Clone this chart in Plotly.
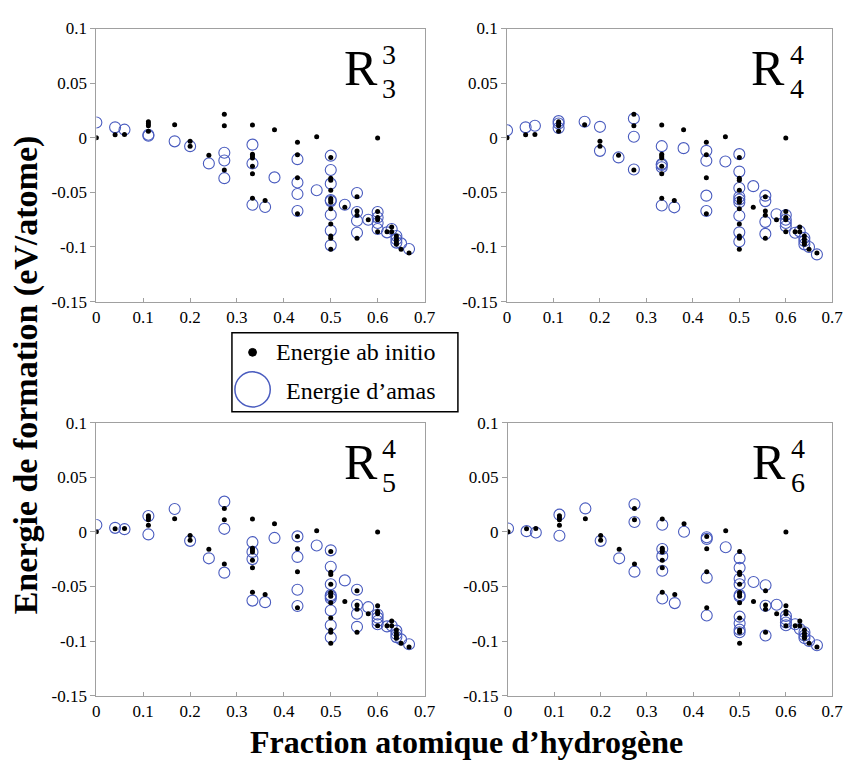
import plotly.graph_objects as go

W, H = 857, 771

# ---------------- data ----------------
# Hydrogen atomic fraction -> formation energies (eV/atom)
ab_initio = [
    (0.0, [0.0]),
    (0.04, [0.0027]),
    (0.06, [0.003]),
    (0.111, [0.0146, 0.0128, 0.011, 0.006]),
    (0.167, [0.012]),
    (0.2, [-0.0033, -0.0077]),
    (0.24, [-0.016]),
    (0.273, [0.0214, 0.011, -0.0295]),
    (0.333, [0.0116, -0.015, -0.0167, -0.0185, -0.026, -0.033, -0.0554]),
    (0.36, [-0.0574]),
    (0.38, [0.0074]),
    (0.429, [-0.0042, -0.0155, -0.0366, -0.0696]),
    (0.47, [0.0009]),
    (0.5, [-0.018, -0.037, -0.039, -0.048, -0.0555, -0.057, -0.059, -0.065,
           -0.079, -0.090, -0.092, -0.102]),
    (0.53, [-0.0637]),
    (0.556, [-0.054, -0.067, -0.071, -0.092]),
    (0.58, [-0.075]),
    (0.6, [-0.0003, -0.0676, -0.073, -0.075, -0.086]),
    (0.62, [-0.086]),
    (0.63, [-0.0816, -0.086]),
    (0.64, [-0.090, -0.093, -0.0955, -0.0975]),
    (0.65, [-0.102]),
    (0.667, [-0.1054]),
]

amas_R33 = [
    (0.0, [0.014]), (0.04, [0.0095]), (0.06, [0.0074]), (0.111, [0.0027, 0.0018]),
    (0.167, [-0.0033]), (0.2, [-0.0077]), (0.24, [-0.0235]),
    (0.273, [-0.0137, -0.0208, -0.037]), (0.333, [-0.0063, -0.0235, -0.0613]),
    (0.36, [-0.0634]), (0.38, [-0.0363]), (0.429, [-0.0196, -0.041, -0.0515, -0.067]),
    (0.47, [-0.048]),
    (0.5, [-0.0164, -0.0295, -0.042, -0.057, -0.058, -0.0705, -0.085, -0.0985]),
    (0.53, [-0.0613]), (0.556, [-0.0506, -0.068, -0.076, -0.087]), (0.58, [-0.075]),
    (0.6, [-0.068, -0.073, -0.078, -0.0836]), (0.62, [-0.0866]), (0.63, [-0.0836]),
    (0.64, [-0.090, -0.093, -0.096]), (0.65, [-0.0967]), (0.667, [-0.1018]),
]

amas_R44 = [
    (0.0, [0.0068]), (0.04, [0.0095]), (0.06, [0.011]), (0.111, [0.0152, 0.013, 0.009]),
    (0.167, [0.0146]), (0.2, [0.010, -0.012]), (0.24, [-0.018]),
    (0.273, [0.0176, 0.0009, -0.029]), (0.333, [-0.0077, -0.024, -0.025, -0.027, -0.062]),
    (0.36, [-0.0637]), (0.38, [-0.0095]), (0.429, [-0.012, -0.021, -0.053, -0.067]),
    (0.47, [-0.0217]),
    (0.5, [-0.015, -0.031, -0.046, -0.054, -0.0565, -0.059, -0.0714, -0.0866, -0.095]),
    (0.53, [-0.0443]), (0.556, [-0.053, -0.058, -0.077, -0.088]), (0.58, [-0.070]),
    (0.6, [-0.0708, -0.075, -0.078, -0.081]), (0.62, [-0.087]), (0.63, [-0.0857]),
    (0.64, [-0.0917, -0.0946, -0.0976]), (0.65, [-0.100]), (0.667, [-0.1068]),
]

amas_R54 = [
    (0.0, [0.0062]), (0.04, [0.0036]), (0.06, [0.0024]), (0.111, [0.0145, -0.0024]),
    (0.167, [0.0208]), (0.2, [-0.0083]), (0.24, [-0.0243]),
    (0.273, [0.0276, 0.0027, -0.0374]), (0.333, [-0.0095, -0.0184, -0.025, -0.063]),
    (0.36, [-0.0644]), (0.38, [-0.0056]), (0.429, [-0.0042, -0.023, -0.053, -0.068]),
    (0.47, [-0.0125]),
    (0.5, [-0.017, -0.032, -0.048, -0.058, -0.0593, -0.061, -0.072, -0.0855, -0.0967]),
    (0.53, [-0.0445]), (0.556, [-0.053, -0.067, -0.075, -0.087]), (0.58, [-0.069]),
    (0.6, [-0.0757, -0.0786, -0.0816, -0.0846]), (0.62, [-0.0866]), (0.63, [-0.086]),
    (0.64, [-0.0905, -0.0935, -0.0964]), (0.65, [-0.0985]), (0.667, [-0.103]),
]

amas_R64 = [
    (0.0, [0.003]), (0.04, [0.0006]), (0.06, [-0.0006]), (0.111, [0.0157, -0.0036]),
    (0.167, [0.0214]), (0.2, [-0.0083]), (0.24, [-0.0243]),
    (0.273, [0.0252, 0.0089, -0.0365]),
    (0.333, [0.0065, -0.0157, -0.0223, -0.0356, -0.061]),
    (0.36, [-0.0653]), (0.38, [0.0]), (0.429, [-0.005, -0.0065, -0.042, -0.0766]),
    (0.47, [-0.0142]),
    (0.5, [-0.0243, -0.033, -0.043, -0.048, -0.058, -0.0593, -0.0777, -0.0837,
           -0.0896, -0.092]),
    (0.53, [-0.046]), (0.556, [-0.049, -0.0677, -0.095]), (0.58, [-0.0668]),
    (0.6, [-0.077, -0.080, -0.083, -0.0855]), (0.62, [-0.0846]), (0.63, [-0.089]),
    (0.64, [-0.092, -0.095, -0.0973]), (0.65, [-0.100]), (0.667, [-0.1039]),
]

x_tick_vals = [0, 0.1, 0.2, 0.3, 0.4, 0.5, 0.6, 0.7]
x_tick_text = ["0", "0.1", "0.2", "0.3", "0.4", "0.5", "0.6", "0.7"]
y_tick_vals = [0.1, 0.05, 0, -0.05, -0.1, -0.15]
y_tick_text = ["0.1", "0.05", "0", "-0.05", "-0.1", "-0.15"]

panel_labels = [("3", "3"), ("4", "4"), ("4", "5"), ("4", "6")]
legend_labels = ["Energie ab initio", "Energie d\u2019amas"]
x_title = "Fraction atomique d\u2019hydrog\u00e8ne"
y_title = "Energie de formation (eV/atome)"

# ---------------- style ----------------
BLUE = "#4a5cbf"
AXIS = "#a0a0a0"
FONT = "Liberation Serif"


def px(x):
    return x / W


def py(y):
    return 1 - y / H


def expand(groups):
    xs, ys = [], []
    for xv, yl in groups:
        for yv in yl:
            xs.append(xv)
            ys.append(yv)
    return xs, ys


# pixel boxes of the four plot areas: (x0, x1), (ytop, ybottom)
boxes = [((94, 428), (20, 300)), ((512, 843), (20, 300)),
         ((94, 428), (424, 704)), ((513, 843), (424, 704))]
amas_sets = [amas_R33, amas_R44, amas_R54, amas_R64]

fig = go.Figure()
abx, aby = expand(ab_initio)

layout = dict(
    width=W, height=H, margin=dict(l=0, r=0, t=0, b=0),
    paper_bgcolor="white", plot_bgcolor="white", showlegend=False,
    font=dict(family=FONT, color="black"),
)

annotations = []
for i, (((x0, x1), (yt, yb)), amas) in enumerate(zip(boxes, amas_sets)):
    n = "" if i == 0 else str(i + 1)
    cx, cy = expand(amas)
    fig.add_trace(go.Scatter(
        x=cx, y=cy, mode="markers", xaxis="x" + n, yaxis="y" + n,
        marker=dict(symbol="circle-open", size=11, color=BLUE, line=dict(width=1.1)),
        hoverinfo="x+y"))
    fig.add_trace(go.Scatter(
        x=abx, y=aby, mode="markers", xaxis="x" + n, yaxis="y" + n,
        marker=dict(symbol="circle", size=5, color="black"),
        hoverinfo="x+y"))
    layout["xaxis" + n] = dict(
        domain=[px(x0), px(x1)], anchor="y" + n, range=[0, 0.7],
        showline=True, mirror=True, linecolor=AXIS, linewidth=1,
        ticks="inside", ticklen=4, tickcolor=AXIS,
        tickvals=x_tick_vals, ticktext=x_tick_text,
        tickfont=dict(family=FONT, size=17, color="black"),
        showgrid=False, zeroline=False, fixedrange=True)
    layout["yaxis" + n] = dict(
        domain=[py(yb), py(yt)], anchor="x" + n, range=[-0.15, 0.1],
        showline=True, mirror=True, linecolor=AXIS, linewidth=1,
        ticks="outside", ticklen=5, tickcolor=AXIS,
        tickvals=y_tick_vals, ticktext=y_tick_text,
        tickfont=dict(family=FONT, size=17, color="black"),
        showgrid=False, zeroline=False, fixedrange=True)

    # panel label R_sub^sup
    sup, sub = panel_labels[i]
    rx = x0 + 269 if i % 2 == 0 else x0 + 266
    ry = yt + 40
    annotations.append(dict(x=px(rx), y=py(ry), xref="paper", yref="paper",
                            text="R", showarrow=False, xanchor="center", yanchor="middle",
                            font=dict(family=FONT, size=50, color="black")))
    annotations.append(dict(x=px(rx + 29), y=py(ry - 13), xref="paper", yref="paper",
                            text=sup, showarrow=False, xanchor="center", yanchor="middle",
                            font=dict(family=FONT, size=28, color="black")))
    annotations.append(dict(x=px(rx + 29), y=py(ry + 21), xref="paper", yref="paper",
                            text=sub, showarrow=False, xanchor="center", yanchor="middle",
                            font=dict(family=FONT, size=28, color="black")))

# axis titles
annotations.append(dict(x=px(22), y=py(375), xref="paper", yref="paper",
                        text="<b>" + y_title + "</b>", textangle=-90, showarrow=False,
                        xanchor="center", yanchor="middle",
                        font=dict(family=FONT, size=34, color="black")))
annotations.append(dict(x=px(471), y=py(752), xref="paper", yref="paper",
                        text="<b>" + x_title + "</b>", showarrow=False,
                        xanchor="center", yanchor="middle",
                        font=dict(family=FONT, size=32, color="black")))

# legend (drawn box)
annotations.append(dict(x=px(275), y=py(352), xref="paper", yref="paper",
                        text=legend_labels[0], showarrow=False,
                        xanchor="left", yanchor="middle",
                        font=dict(family=FONT, size=24, color="black")))
annotations.append(dict(x=px(285), y=py(392), xref="paper", yref="paper",
                        text=legend_labels[1], showarrow=False,
                        xanchor="left", yanchor="middle",
                        font=dict(family=FONT, size=24, color="black")))

shapes = [
    dict(type="rect", xref="paper", yref="paper", x0=px(232), x1=px(462),
         y0=py(413), y1=py(332), line=dict(color="black", width=1.5),
         fillcolor="white", layer="below"),
    dict(type="circle", xref="paper", yref="paper", x0=px(249), x1=px(257),
         y0=py(356), y1=py(348), line=dict(color="black", width=1), fillcolor="black"),
    dict(type="circle", xref="paper", yref="paper", x0=px(235), x1=px(271),
         y0=py(408), y1=py(372), line=dict(color=BLUE, width=1.5)),
]

layout["annotations"] = annotations
layout["shapes"] = shapes
fig.update_layout(**layout)

fig.write_html("out.html")
